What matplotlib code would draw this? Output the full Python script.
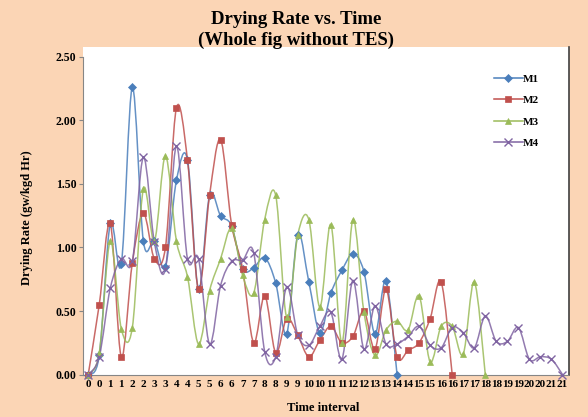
import matplotlib
matplotlib.use("Agg")
import matplotlib.pyplot as plt
from matplotlib.path import Path
from matplotlib.patches import PathPatch, Rectangle
from matplotlib.lines import Line2D
import numpy as np

# ---------------- data ----------------
tick_labels = [str(k) for k in range(22) for _ in range(2)]  # 0,0,1,1,...,21,21

m1 = [0, 0.15, 1.19, 0.87, 2.26, 1.05, 1.05, 0.85, 1.53, 1.69, 0.67, 1.41, 1.25, 1.17,
      0.83, 0.84, 0.92, 0.72, 0.32, 1.10, 0.73, 0.33, 0.64, 0.82, 0.95, 0.81, 0.32, 0.74, 0]
m2 = [0, 0.55, 1.19, 0.14, 0.88, 1.27, 0.91, 1.00, 2.10, 1.69, 0.67, 1.41, 1.85, 1.18,
      0.83, 0.25, 0.62, 0.17, 0.44, 0.31, 0.14, 0.27, 0.38, 0.25, 0.30, 0.50, 0.20, 0.67,
      0.14, 0.19, 0.25, 0.44, 0.73, 0]
m3 = [0, 0.17, 1.05, 0.36, 0.37, 1.46, 1.05, 1.72, 1.05, 0.77, 0.24, 0.66, 0.91, 1.15,
      0.78, 0.64, 1.22, 1.41, 0.45, 1.10, 1.22, 0.53, 1.18, 0.25, 1.22, 0.49, 0.15, 0.35,
      0.42, 0.35, 0.62, 0.10, 0.38, 0.38, 0.16, 0.73, 0]
m4 = [0, 0.14, 0.68, 0.91, 0.89, 1.71, 1.04, 0.83, 1.80, 0.91, 0.91, 0.24, 0.70, 0.89,
      0.90, 0.96, 0.18, 0.14, 0.69, 0.31, 0.23, 0.38, 0.49, 0.12, 0.74, 0.20, 0.54, 0.24,
      0.24, 0.30, 0.38, 0.23, 0.21, 0.37, 0.33, 0.21, 0.46, 0.26, 0.26, 0.37, 0.12, 0.14,
      0.12, 0]

series = [("M1", m1), ("M2", m2), ("M3", m3), ("M4", m4)]
colors = {"M1": "#4A7EBB", "M2": "#C0504D", "M3": "#9BBB59", "M4": "#8064A2"}
markers = {"M1": "D", "M2": "s", "M3": "^", "M4": "x"}
msizes = {"M1": 3.6, "M2": 5.0, "M3": 5.0, "M4": 5.5}

SERIF = ["Liberation Serif", "DejaVu Serif"]


def smooth_path(xs, ys):
    """Excel-like smoothed line: cubic Bezier through the data points."""
    pts = np.column_stack([xs, ys]).astype(float)
    n = len(pts)
    verts = [tuple(pts[0])]
    codes = [Path.MOVETO]
    for i in range(n - 1):
        p0 = pts[i - 1] if i > 0 else pts[i]
        p1 = pts[i]
        p2 = pts[i + 1]
        p3 = pts[i + 2] if i + 2 < n else pts[i + 1]
        c1 = p1 + (p2 - p0) / 6.0
        c2 = p2 - (p3 - p1) / 6.0
        verts += [tuple(c1), tuple(c2), tuple(p2)]
        codes += [Path.CURVE4, Path.CURVE4, Path.CURVE4]
    return Path(verts, codes)


W, H = 588, 417
fig = plt.figure(figsize=(W / 100, H / 100), dpi=100)
fig.patch.set_facecolor("#FBD5B5")

# white chart area behind axes, with a dark right edge
fig.patches.append(Rectangle((82.7 / W, 1 - 375 / H), (569 - 82.7) / W, (375 - 47) / H,
                             transform=fig.transFigure, facecolor="white",
                             edgecolor="none", zorder=0))
fig.add_artist(Line2D([569 / W, 569 / W], [1 - 375 / H, 1 - 47 / H],
                      transform=fig.transFigure, color="#404040", lw=1.2, zorder=0.5))

ax = fig.add_axes([82.7 / W, 1 - 374.5 / H, (568 - 82.7) / W, (374.5 - 57) / H])
ax.set_facecolor("white")
ax.patch.set_alpha(0)
ax.set_zorder(1)

for name, vals in series:
    x = np.arange(len(vals))
    y = np.array(vals)
    patch = PathPatch(smooth_path(x, y), facecolor="none", edgecolor=colors[name],
                      lw=1.1, alpha=0.85, clip_on=False, zorder=2)
    ax.add_patch(patch)
    ax.plot(x, y, linestyle="none", marker=markers[name], color=colors[name],
            markersize=msizes[name], markeredgewidth=1.0 if name == "M4" else 0.5,
            zorder=3, clip_on=False)

ax.set_xlim(-0.5, 43.5)
ax.set_ylim(0, 2.5)
ax.set_xticks(np.arange(len(tick_labels)))
ax.set_xticklabels(tick_labels, fontfamily=SERIF, fontweight="bold", fontsize=8)
ax.tick_params(axis="x", length=0, pad=4)
ax.set_yticks([0, 0.5, 1.0, 1.5, 2.0, 2.5])
ax.set_yticklabels(["0.00", "0.50", "1.00", "1.50", "2.00", "2.50"],
                   fontfamily=SERIF, fontweight="bold", fontsize=8.5)
ax.tick_params(axis="y", length=3, width=0.8, color="#868686", pad=1.5)

for side in ["top", "right"]:
    ax.spines[side].set_visible(False)
ax.spines["left"].set_color("#868686")
ax.spines["bottom"].set_color("#868686")
ax.spines["left"].set_linewidth(0.8)
ax.spines["bottom"].set_linewidth(0.8)

fig.text(296 / W, 1 - 19 / H, "Drying Rate vs. Time", ha="center", va="center",
         fontfamily=SERIF, fontweight="bold", fontsize=13.5)
fig.text(296 / W, 1 - 40 / H, "(Whole fig without TES)", ha="center", va="center",
         fontfamily=SERIF, fontweight="bold", fontsize=13.5)
fig.text(27 / W, 1 - 218 / H, "Drying Rate (gw/kgd Hr)", ha="center", va="center",
         rotation=90, fontfamily=SERIF, fontweight="bold", fontsize=9)
fig.text(323 / W, 1 - 408 / H, "Time interval", ha="center", va="center",
         fontfamily=SERIF, fontweight="bold", fontsize=9)

handles = [Line2D([0], [0], color=colors[n], lw=1.1, marker=markers[n],
                  markersize=msizes[n], markeredgewidth=1.0 if n == "M4" else 0.5)
           for n, _ in series]
leg = ax.legend(handles, [n for n, _ in series], loc="upper left",
                bbox_to_anchor=(484 / W, 1 - 64 / H), bbox_transform=fig.transFigure,
                frameon=False, prop={"family": SERIF, "weight": "bold", "size": 8},
                handlelength=2.6, labelspacing=1.05, handletextpad=0.0)

fig.savefig("out.png", dpi=100, facecolor=fig.get_facecolor())
